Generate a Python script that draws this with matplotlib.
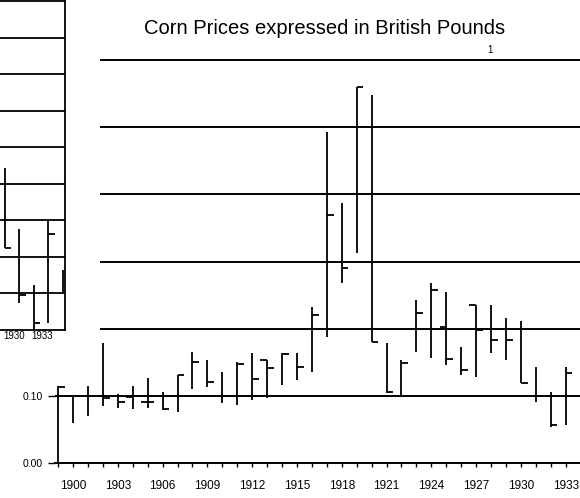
import numpy as np
import matplotlib
matplotlib.use('Agg')
import matplotlib.pyplot as plt

plt.rcParams['font.family'] = ['Liberation Sans', 'DejaVu Sans']

# main chart: yearly high / low / open / close, British pounds
years = list(range(1899, 1934))
highs = [0.115, 0.098, 0.115, 0.179, 0.103, 0.115, 0.126, 0.106, 0.131, 0.165,
         0.153, 0.135, 0.150, 0.164, 0.153, 0.164, 0.164, 0.232, 0.493, 0.387,
         0.560, 0.548, 0.179, 0.153, 0.243, 0.268, 0.254, 0.173, 0.235, 0.235,
         0.216, 0.211, 0.143, 0.106, 0.143]
lows = [0.000, 0.060, 0.070, 0.085, 0.082, 0.080, 0.082, 0.079, 0.076, 0.110,
        0.113, 0.089, 0.086, 0.094, 0.097, 0.116, 0.124, 0.135, 0.188, 0.268,
        0.313, 0.180, 0.104, 0.098, 0.165, 0.156, 0.146, 0.131, 0.128, 0.164,
        0.153, 0.119, 0.091, 0.054, 0.057]
closes = [0.113, np.nan, np.nan, 0.097, 0.091, np.nan, 0.091, 0.080, 0.131, 0.150,
          0.121, np.nan, 0.147, 0.125, 0.141, 0.162, 0.143, 0.220, 0.369, 0.290,
          0.560, 0.180, 0.106, 0.149, 0.223, 0.257, 0.155, 0.138, 0.198, 0.183,
          0.183, 0.119, 0.100, 0.057, 0.134]
opens = [np.nan, np.nan, np.nan, np.nan, np.nan, 0.098, 0.091, np.nan, np.nan, np.nan,
         np.nan, np.nan, np.nan, np.nan, 0.153, np.nan, np.nan, np.nan, np.nan, np.nan,
         np.nan, np.nan, np.nan, np.nan, np.nan, np.nan, 0.202, np.nan, 0.235, np.nan,
         np.nan, np.nan, np.nan, np.nan, np.nan]
label_years = list(range(1900, 1934, 3))
grid_levels = [0.2, 0.3, 0.4, 0.5, 0.6]

# second chart, only its right edge is on the page
in_years = [1929, 1930, 1931, 1932, 1933]
in_highs = [0.222, 0.139, 0.061, 0.150, 0.082]
in_lows = [0.112, 0.037, 0.000, 0.010, 0.050]
in_closes = [0.112, 0.048, 0.010, 0.132, np.nan]
in_levels = [0.05, 0.10, 0.15, 0.20, 0.25, 0.30, 0.35, 0.40, 0.45]
in_labels = ['1930', '1933']

fig = plt.figure(figsize=(5.8, 4.98), dpi=100)
fig.patch.set_facecolor('white')

ax = fig.add_axes([55 / 580, 35 / 498, 525 / 580, 413 / 498])
x0, x1 = 1898.79, 1933.96
ax.set_xlim(x0, x1)
ax.set_ylim(0, 0.615)

yrs = np.array(years, dtype=float)
ax.vlines(yrs, lows, highs, color='black', lw=1.3)
ax.hlines(closes, yrs, yrs + 0.45, color='black', lw=1.3)
ax.hlines(opens, yrs - 0.45, yrs, color='black', lw=1.3)

ax.hlines(0.1, x0, x1, color='black', lw=1.4)
ax.hlines(grid_levels, 1901.8, x1, color='black', lw=1.4)

for s in ['left', 'top', 'right']:
    ax.spines[s].set_visible(False)
ax.spines['bottom'].set_linewidth(1.4)

ax.set_xticks(label_years)
ax.set_xticklabels([str(y) for y in label_years], fontsize=8.5)
ax.set_xticks(years, minor=True)
ax.tick_params(axis='x', which='both', direction='out', length=3, width=1, pad=9)
ax.set_yticks([0.0, 0.1])
ax.set_yticklabels(['0.00', '0.10'], fontsize=7.5)
ax.tick_params(axis='y', direction='out', length=5, width=1, pad=4)

fig.text(325 / 580, 1 - 28 / 498, 'Corn Prices expressed in British Pounds',
         ha='center', va='center', fontsize=14.5)
fig.text(490 / 580, 1 - 50 / 498, '1', ha='center', va='center', fontsize=7)

# partial chart at the left edge
ax2 = fig.add_axes([-100 / 580, 168 / 498, 165 / 580, 330 / 498])
ix0, ix1 = 1921.76, 1933.14
ax2.set_xlim(ix0, ix1)
ax2.set_ylim(0, 0.452)
iy = np.array(in_years, dtype=float)
ax2.vlines(iy, in_lows, in_highs, color='black', lw=1.3)
ax2.hlines(in_closes, iy, iy + 0.45, color='black', lw=1.3)
ax2.hlines(in_levels, ix0, ix1, color='black', lw=1.3)
for s in ['left', 'top']:
    ax2.spines[s].set_visible(False)
ax2.spines['right'].set_linewidth(1.3)
ax2.spines['bottom'].set_linewidth(1.3)
ax2.set_yticks([])
ax2.set_xticks([1929.62, 1931.55])
ax2.set_xticklabels(in_labels, fontsize=7)
ax2.tick_params(axis='x', length=0, pad=1)

fig.savefig('out.png', dpi=100)
